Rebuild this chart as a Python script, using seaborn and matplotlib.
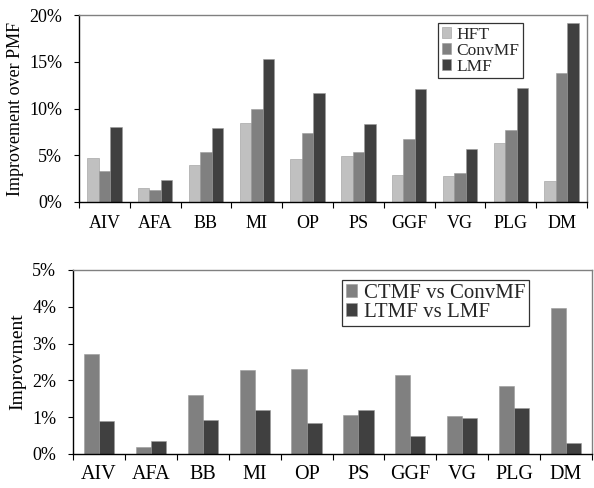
import matplotlib
matplotlib.use("Agg")
import matplotlib.pyplot as plt
import seaborn as sns
import pandas as pd
import numpy as np
from matplotlib.ticker import FuncFormatter, FixedLocator

categories = ["AIV", "AFA", "BB", "MI", "OP", "PS", "GGF", "VG", "PLG", "DM"]
hft = [4.7, 1.5, 4.0, 8.5, 4.6, 4.9, 2.9, 2.8, 6.3, 2.2]
convmf = [3.3, 1.3, 5.3, 10.0, 7.4, 5.4, 6.7, 3.1, 7.7, 13.8]
lmf = [8.0, 2.3, 7.9, 15.3, 11.7, 8.3, 12.1, 5.7, 12.2, 19.1]
ctmf_vs_convmf = [2.73, 0.18, 1.60, 2.28, 2.32, 1.05, 2.16, 1.02, 1.86, 3.97]
ltmf_vs_lmf = [0.90, 0.36, 0.92, 1.20, 0.83, 1.20, 0.50, 0.98, 1.24, 0.30]

sns.set_theme(style="white")
plt.rcParams["font.family"] = ["Liberation Serif", "DejaVu Serif"]

top_df = pd.DataFrame({
    "cat": categories * 3,
    "val": hft + convmf + lmf,
    "series": ["HFT"] * 10 + ["ConvMF"] * 10 + ["LMF"] * 10,
})
bot_df = pd.DataFrame({
    "cat": categories * 2,
    "val": ctmf_vs_convmf + ltmf_vs_lmf,
    "series": ["CTMF vs ConvMF"] * 10 + ["LTMF vs LMF"] * 10,
})

fig = plt.figure(figsize=(5.94, 4.88), dpi=100)
ax1 = fig.add_axes([79 / 594, 1 - 202 / 488, (587 - 79) / 594, (202 - 15) / 488])
ax2 = fig.add_axes([73 / 594, 1 - 454 / 488, (592 - 73) / 594, (454 - 270) / 488])

sns.barplot(data=top_df, x="cat", y="val", hue="series", ax=ax1,
            palette=["#c0c0c0", "#808080", "#404040"], width=0.68,
            saturation=1, linewidth=0.4, edgecolor="#9a9a9a")
sns.barplot(data=bot_df, x="cat", y="val", hue="series", ax=ax2,
            palette=["#808080", "#404040"], width=0.58,
            saturation=1, linewidth=0.4, edgecolor="#9a9a9a")

pct = FuncFormatter(lambda v, p: f"{v:.0f}%")
for ax, ymax, step, ylabel, ysize, xsize, lsize, xpad in [
        (ax1, 20, 5, "Improvement over PMF", 13, 13, 13, 9),
        (ax2, 5, 1, "Improvment", 13, 14.5, 14, 8)]:
    ax.set_ylim(0, ymax)
    ax.set_xlim(-0.5, 9.5)
    ax.yaxis.set_major_locator(FixedLocator(np.arange(0, ymax + 0.01, step)))
    ax.yaxis.set_major_formatter(pct)
    ax.set_xlabel("")
    ax.set_ylabel(ylabel, fontsize=lsize, color="black", labelpad=4)
    ax.tick_params(axis="y", which="major", left=True, length=3.6, width=0.8,
                   color="black", labelsize=ysize, pad=8.5, labelcolor="black")
    ax.tick_params(axis="x", which="major", bottom=False, length=0,
                   labelsize=xsize, pad=xpad, labelcolor="black")
    ax.set_xticks(np.arange(-0.5, 10, 1), minor=True)
    ax.tick_params(axis="x", which="minor", bottom=True, length=4, width=0.8,
                   color="black", direction="out")
    for s in ["left", "bottom"]:
        ax.spines[s].set_color("black")
        ax.spines[s].set_linewidth(1.0)
    for s in ["top", "right"]:
        ax.spines[s].set_color("#808080")
        ax.spines[s].set_linewidth(1.0)
    ax.grid(False)

leg1 = ax1.legend(loc="upper right", bbox_to_anchor=(0.874, 0.957), fontsize=12.5,
                  frameon=True, fancybox=False, edgecolor="black",
                  handlelength=0.55, handleheight=0.55, handletextpad=0.3,
                  labelspacing=0.0, borderpad=0.2, borderaxespad=0)
leg1.get_frame().set_linewidth(0.9)
leg2 = ax2.legend(loc="upper right", bbox_to_anchor=(0.879, 0.946), fontsize=15,
                  frameon=True, fancybox=False, edgecolor="black",
                  handlelength=0.55, handleheight=0.55, handletextpad=0.3,
                  labelspacing=0.0, borderpad=0.2, borderaxespad=0)
leg2.get_frame().set_linewidth(0.9)

fig.savefig("out.png", dpi=100)
